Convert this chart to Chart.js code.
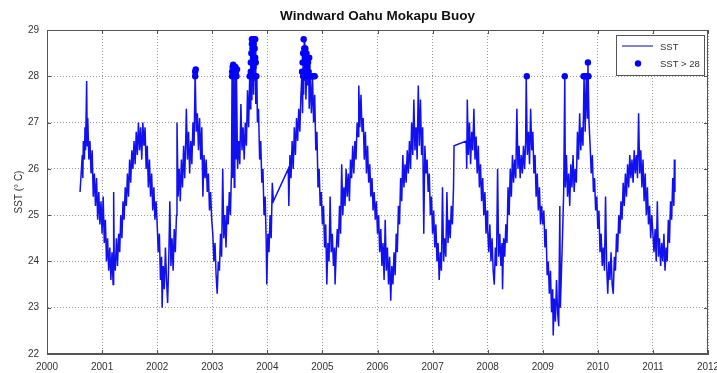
<!DOCTYPE html>
<html>
<head>
<meta charset="utf-8">
<script src="https://cdn.jsdelivr.net/npm/chart.js@4.4.1/dist/chart.umd.min.js"></script>
<style>
  html, body { margin: 0; padding: 0; background: #fff; }
  #wrap { width: 717px; height: 373px; }
</style>
</head>
<body>
<div id="wrap"><canvas id="sstChart" width="717" height="373"></canvas></div>
<script>
// tick values
const xTicks = [2000, 2001, 2002, 2003, 2004, 2005, 2006, 2007, 2008, 2009, 2010, 2011, 2012];
const yTicks = [22, 23, 24, 25, 26, 27, 28, 29];

// SST readings [decimal year, deg C], one year at a time
const sst2000 = [[2000.60,25.5],[2000.62,25.9],[2000.64,26.3],[2000.65,25.8],[2000.66,26.6],[2000.68,26.2],[2000.69,26.9],[2000.70,26.4],[2000.72,27.9],[2000.73,26.5],[2000.74,27.1],[2000.76,26.2],[2000.78,26.6],[2000.80,25.9],[2000.82,26.4],[2000.84,25.4],[2000.86,25.9],[2000.88,25.2],[2000.90,25.8],[2000.92,24.9],[2000.94,25.5],[2000.96,24.8],[2000.98,25.3]];
const sst2001 = [[2001.00,24.6],[2001.02,25.4],[2001.04,24.4],[2001.06,24.9],[2001.08,24.0],[2001.10,24.5],[2001.12,23.8],[2001.14,24.3],[2001.16,23.6],[2001.18,24.2],[2001.20,23.5],[2001.21,25.5],[2001.22,24.1],[2001.24,23.8],[2001.26,24.5],[2001.28,23.9],[2001.30,24.6],[2001.32,24.2],[2001.34,25.0],[2001.36,24.5],[2001.38,25.3],[2001.40,24.9],[2001.42,25.6],[2001.44,25.2],[2001.46,25.9],[2001.48,25.4],[2001.50,26.2],[2001.52,25.7],[2001.54,26.4],[2001.56,26.0],[2001.58,26.6],[2001.60,26.1],[2001.62,26.8],[2001.64,26.3],[2001.66,27.0],[2001.68,26.4],[2001.70,26.9],[2001.72,26.2],[2001.74,27.0],[2001.76,26.5],[2001.78,26.9],[2001.80,26.0],[2001.82,26.5],[2001.84,25.6],[2001.86,26.2],[2001.88,25.4],[2001.90,25.9],[2001.92,25.1],[2001.94,25.6],[2001.96,24.9],[2001.98,25.3]];
const sst2002 = [[2002.00,24.8],[2002.02,24.2],[2002.04,24.6],[2002.06,23.6],[2002.08,24.1],[2002.09,23.0],[2002.11,23.9],[2002.13,23.4],[2002.15,24.3],[2002.17,23.6],[2002.19,23.1],[2002.21,24.0],[2002.23,25.3],[2002.25,23.9],[2002.27,24.5],[2002.29,23.8],[2002.31,24.7],[2002.33,24.2],[2002.35,25.0],[2002.36,27.0],[2002.38,25.4],[2002.40,26.0],[2002.42,25.3],[2002.44,26.2],[2002.46,25.6],[2002.48,26.5],[2002.50,25.8],[2002.52,26.7],[2002.53,27.3],[2002.55,26.2],[2002.57,26.8],[2002.59,25.9],[2002.61,26.6],[2002.63,26.1],[2002.65,27.0],[2002.67,26.5],[2002.69,28.1],[2002.71,26.8],[2002.73,27.2],[2002.75,26.4],[2002.77,27.1],[2002.79,26.2],[2002.81,26.9],[2002.83,25.4],[2002.85,26.3],[2002.87,25.8],[2002.89,26.2],[2002.91,25.5],[2002.93,25.9],[2002.95,25.1],[2002.97,25.5],[2002.99,24.9]];
const sst2003 = [[2003.01,24.6],[2003.03,24.0],[2003.05,24.4],[2003.07,23.7],[2003.09,23.3],[2003.11,24.0],[2003.13,23.8],[2003.15,24.6],[2003.17,24.1],[2003.19,26.0],[2003.21,24.5],[2003.23,25.0],[2003.25,24.3],[2003.27,25.2],[2003.29,24.8],[2003.31,25.5],[2003.33,25.0],[2003.35,26.0],[2003.36,28.2],[2003.37,25.8],[2003.38,28.1],[2003.40,25.6],[2003.41,28.2],[2003.43,26.2],[2003.44,28.0],[2003.46,26.0],[2003.48,26.6],[2003.50,26.1],[2003.52,27.4],[2003.54,26.4],[2003.56,26.9],[2003.58,26.2],[2003.60,27.0],[2003.62,26.5],[2003.64,27.7],[2003.66,26.9],[2003.68,28.0],[2003.69,27.3],[2003.70,28.4],[2003.71,27.5],[2003.72,28.8],[2003.73,27.8],[2003.74,28.6],[2003.75,27.6],[2003.76,28.3],[2003.77,27.9],[2003.78,28.8],[2003.79,27.4],[2003.81,28.0],[2003.82,27.0],[2003.84,27.3],[2003.86,26.2],[2003.88,26.6],[2003.90,25.7],[2003.92,26.0],[2003.94,25.0],[2003.96,25.4],[2003.98,24.4]];
const sst2004 = [[2003.99,23.5],[2004.01,24.6],[2004.03,24.2],[2004.05,25.0],[2004.07,24.5],[2004.09,25.7],[2004.11,25.3],[2004.38,26.0],[2004.39,25.2],[2004.41,26.3],[2004.43,25.8],[2004.45,26.6],[2004.47,26.0],[2004.49,26.9],[2004.51,26.3],[2004.53,27.1],[2004.55,26.6],[2004.57,27.3],[2004.59,26.8],[2004.61,27.6],[2004.63,28.1],[2004.64,27.2],[2004.65,28.5],[2004.66,27.6],[2004.67,28.8],[2004.68,27.9],[2004.69,28.6],[2004.70,27.5],[2004.72,28.4],[2004.73,27.8],[2004.75,28.4],[2004.76,27.3],[2004.78,28.0],[2004.80,27.2],[2004.82,28.0],[2004.84,27.0],[2004.86,27.6],[2004.88,26.4],[2004.90,26.8],[2004.92,25.6],[2004.94,26.0],[2004.96,25.2],[2004.98,25.5]];
const sst2005 = [[2005.00,24.8],[2005.02,25.2],[2005.04,24.3],[2005.06,24.8],[2005.08,23.5],[2005.10,24.4],[2005.12,24.0],[2005.14,25.4],[2005.16,24.2],[2005.18,24.6],[2005.20,23.9],[2005.22,24.3],[2005.23,23.5],[2005.25,24.2],[2005.27,24.7],[2005.29,24.3],[2005.31,25.2],[2005.33,24.6],[2005.35,26.1],[2005.37,25.0],[2005.39,25.6],[2005.41,25.2],[2005.43,26.0],[2005.45,25.4],[2005.47,25.9],[2005.49,25.3],[2005.51,26.2],[2005.53,25.8],[2005.55,26.5],[2005.57,25.9],[2005.59,26.6],[2005.61,26.2],[2005.63,27.0],[2005.65,26.7],[2005.66,27.8],[2005.68,26.9],[2005.70,27.6],[2005.72,26.8],[2005.74,27.1],[2005.76,26.2],[2005.78,26.8],[2005.80,25.9],[2005.82,26.5],[2005.84,25.7],[2005.86,26.1],[2005.88,25.4],[2005.90,25.8],[2005.92,25.1],[2005.94,25.5],[2005.96,24.9],[2005.98,25.3]];
const sst2006 = [[2006.00,24.6],[2006.02,25.0],[2006.04,24.2],[2006.06,24.7],[2006.08,23.9],[2006.10,24.4],[2006.12,23.6],[2006.14,24.9],[2006.16,23.8],[2006.18,24.3],[2006.20,23.5],[2006.22,24.1],[2006.24,23.15],[2006.26,23.9],[2006.28,23.5],[2006.30,24.2],[2006.32,23.7],[2006.34,24.6],[2006.36,24.2],[2006.38,25.2],[2006.40,24.8],[2006.42,25.8],[2006.44,25.3],[2006.46,26.3],[2006.48,25.6],[2006.50,26.1],[2006.52,25.7],[2006.54,26.4],[2006.56,25.9],[2006.58,26.6],[2006.60,26.0],[2006.62,27.0],[2006.64,26.3],[2006.66,27.5],[2006.68,26.4],[2006.70,26.9],[2006.72,26.2],[2006.74,27.8],[2006.76,26.5],[2006.78,27.5],[2006.80,26.3],[2006.82,26.9],[2006.84,24.6],[2006.86,26.5],[2006.88,25.9],[2006.90,26.2],[2006.92,25.5],[2006.94,25.9],[2006.96,25.0],[2006.98,25.4]];
const sst2007 = [[2007.00,24.6],[2007.02,25.1],[2007.04,24.3],[2007.06,24.8],[2007.08,24.0],[2007.10,24.4],[2007.12,23.6],[2007.14,24.2],[2007.16,23.8],[2007.18,25.6],[2007.20,24.0],[2007.22,24.5],[2007.24,24.1],[2007.26,25.5],[2007.28,24.4],[2007.30,24.9],[2007.32,24.5],[2007.34,25.2],[2007.36,24.8],[2007.38,25.6],[2007.39,26.5],[2007.61,26.6],[2007.62,26.0],[2007.63,27.5],[2007.65,26.3],[2007.67,27.0],[2007.69,26.1],[2007.71,26.8],[2007.73,26.4],[2007.75,27.3],[2007.77,26.2],[2007.79,26.7],[2007.81,25.9],[2007.83,26.5],[2007.85,25.6],[2007.87,26.1],[2007.89,25.3],[2007.91,25.8],[2007.93,25.0],[2007.95,25.5],[2007.97,24.6],[2007.99,25.1]];
const sst2008 = [[2008.00,24.7],[2008.02,24.2],[2008.04,24.8],[2008.06,24.0],[2008.08,24.5],[2008.10,23.8],[2008.12,23.5],[2008.14,24.3],[2008.16,23.9],[2008.18,26.0],[2008.20,24.1],[2008.22,24.6],[2008.24,23.9],[2008.26,24.4],[2008.27,23.4],[2008.29,24.5],[2008.31,24.1],[2008.33,24.8],[2008.35,24.4],[2008.37,25.6],[2008.39,25.0],[2008.41,26.0],[2008.43,25.4],[2008.45,26.3],[2008.47,25.7],[2008.49,26.2],[2008.51,25.8],[2008.53,27.3],[2008.55,26.0],[2008.57,26.5],[2008.59,25.8],[2008.61,26.3],[2008.63,25.9],[2008.65,26.5],[2008.67,26.0],[2008.69,26.6],[2008.70,28.0],[2008.72,26.3],[2008.74,26.8],[2008.76,26.1],[2008.78,27.3],[2008.80,26.4],[2008.82,26.8],[2008.84,25.9],[2008.86,26.3],[2008.88,25.4],[2008.90,25.9],[2008.92,25.1],[2008.94,25.6],[2008.96,24.8],[2008.98,25.2]];
const sst2009 = [[2009.00,24.8],[2009.02,25.1],[2009.04,24.3],[2009.06,24.7],[2009.08,23.7],[2009.10,24.0],[2009.12,23.3],[2009.14,23.8],[2009.16,22.9],[2009.18,23.4],[2009.19,22.4],[2009.21,23.2],[2009.23,22.7],[2009.25,23.6],[2009.27,22.9],[2009.29,22.6],[2009.31,25.2],[2009.32,23.0],[2009.34,23.8],[2009.36,24.6],[2009.38,25.5],[2009.40,28.0],[2009.41,25.6],[2009.43,26.3],[2009.45,25.4],[2009.47,25.9],[2009.49,25.2],[2009.51,26.1],[2009.53,25.6],[2009.55,26.3],[2009.57,25.5],[2009.59,26.0],[2009.61,25.7],[2009.63,26.8],[2009.65,26.2],[2009.67,27.2],[2009.69,26.4],[2009.71,26.9],[2009.73,26.5],[2009.75,28.0],[2009.77,26.8],[2009.79,28.0],[2009.81,27.1],[2009.82,28.3],[2009.84,27.0],[2009.86,26.5],[2009.88,25.9],[2009.90,26.3],[2009.92,25.5],[2009.94,25.8],[2009.96,25.1],[2009.98,25.4]];
const sst2010 = [[2010.00,24.7],[2010.02,25.1],[2010.04,24.2],[2010.06,24.6],[2010.08,23.9],[2010.10,24.3],[2010.12,23.8],[2010.14,25.4],[2010.16,23.9],[2010.18,23.3],[2010.20,24.0],[2010.22,23.6],[2010.24,24.2],[2010.26,23.5],[2010.28,23.3],[2010.30,24.1],[2010.32,23.8],[2010.34,24.6],[2010.36,24.2],[2010.38,25.0],[2010.40,24.6],[2010.42,25.3],[2010.44,24.9],[2010.46,25.7],[2010.48,25.2],[2010.50,25.9],[2010.52,25.4],[2010.54,26.1],[2010.56,25.6],[2010.58,26.3],[2010.60,25.8],[2010.62,26.2],[2010.64,25.7],[2010.66,26.4],[2010.68,25.9],[2010.70,26.3],[2010.72,25.8],[2010.74,27.2],[2010.76,25.9],[2010.78,26.4],[2010.80,25.6],[2010.82,26.2],[2010.84,25.3],[2010.86,25.9],[2010.88,25.0],[2010.90,25.6],[2010.92,24.8],[2010.94,25.2],[2010.96,24.5],[2010.98,25.0]];
const sst2011 = [[2011.00,24.6],[2011.02,24.2],[2011.04,24.7],[2011.06,24.0],[2011.08,25.3],[2011.10,24.1],[2011.12,24.5],[2011.14,23.9],[2011.16,24.4],[2011.18,24.0],[2011.20,24.6],[2011.22,23.8],[2011.24,24.3],[2011.26,24.0],[2011.28,24.9],[2011.30,24.4],[2011.32,25.3],[2011.34,24.9],[2011.36,25.8],[2011.38,25.2],[2011.39,26.2],[2011.40,25.5]];

// readings above 28 deg C, marked with dots
const hotTimes = [2002.69,2002.69,2002.70,
  2003.36,2003.36,2003.37,2003.38,2003.39,2003.40,2003.42,2003.43,2003.44,2003.45,
  2003.68,2003.70,2003.70,2003.71,2003.71,2003.72,2003.72,2003.73,2003.74,2003.75,2003.75,2003.76,2003.77,2003.78,2003.78,2003.79,2003.80,
  2004.63,2004.64,2004.65,2004.65,2004.66,2004.67,2004.68,2004.69,2004.70,2004.70,2004.71,2004.72,2004.73,2004.74,2004.75,2004.76,2004.78,2004.80,2004.83,2004.86,
  2008.71,2009.40,2009.74,2009.76,2009.80,2009.82,2009.83];
const hotValues = [28.0,28.1,28.15,
  28.0,28.1,28.2,28.25,28.1,28.0,28.2,28.1,28.0,28.15,
  28.0,28.1,28.3,28.5,28.0,28.8,28.7,28.6,28.4,28.2,28.7,28.8,28.6,28.4,28.8,28.3,28.0,
  28.1,28.3,28.5,28.0,28.8,28.6,28.4,28.6,28.3,28.0,28.5,28.4,28.2,28.3,28.1,28.4,28.0,28.0,28.0,28.0,
  28.0,28.0,28.0,28.0,28.0,28.3,28.0];

const sstPoints = [].concat(sst2000, sst2001, sst2002, sst2003, sst2004, sst2005,
  sst2006, sst2007, sst2008, sst2009, sst2010, sst2011).map(p => ({ x: p[0], y: p[1] }));
const hotPoints = hotTimes.map((t, i) => ({ x: t, y: hotValues[i] }));

const FONT = "'Liberation Sans', Arial, sans-serif";
const AXIS_GREY = "#555";

// box round the axes plus inward tick marks, like the original
const framePlugin = {
  id: "frame",
  afterDraw(chart) {
    const { ctx, chartArea: a, scales } = chart;
    ctx.save();
    ctx.strokeStyle = AXIS_GREY;
    ctx.lineWidth = 1;
    ctx.strokeRect(a.left + 0.5, a.top + 0.5, a.right - a.left - 1, a.bottom - a.top - 1);
    ctx.beginPath();
    xTicks.forEach(v => {
      const px = Math.round(scales.x.getPixelForValue(v)) + 0.5;
      ctx.moveTo(px, a.bottom); ctx.lineTo(px, a.bottom - 4);
      ctx.moveTo(px, a.top); ctx.lineTo(px, a.top + 4);
    });
    yTicks.forEach(v => {
      const py = Math.round(scales.y.getPixelForValue(v)) + 0.5;
      ctx.moveTo(a.left, py); ctx.lineTo(a.left + 4, py);
      ctx.moveTo(a.right, py); ctx.lineTo(a.right - 4, py);
    });
    ctx.stroke();
    ctx.restore();
  }
};

// legend box in the top right corner of the axes
const legendPlugin = {
  id: "boxLegend",
  afterDraw(chart) {
    const { ctx, chartArea: a } = chart;
    const x0 = a.right - 92, y0 = a.top + 5, w = 88, h = 40;
    ctx.save();
    ctx.fillStyle = "#fff";
    ctx.fillRect(x0, y0, w, h);
    ctx.strokeStyle = "#555";
    ctx.lineWidth = 1;
    ctx.strokeRect(x0 + 0.5, y0 + 0.5, w, h);
    ctx.strokeStyle = "rgb(90,90,200)";
    ctx.lineWidth = 1.5;
    ctx.beginPath();
    ctx.moveTo(x0 + 6, y0 + 11);
    ctx.lineTo(x0 + 37, y0 + 11);
    ctx.stroke();
    ctx.fillStyle = "#0000ff";
    ctx.beginPath();
    ctx.arc(x0 + 22, y0 + 28.5, 3.2, 0, Math.PI * 2);
    ctx.fill();
    ctx.fillStyle = "#333";
    ctx.font = "9.5px " + FONT;
    ctx.textBaseline = "middle";
    ctx.fillText("SST", x0 + 44, y0 + 12);
    ctx.fillText("SST > 28", x0 + 44, y0 + 29);
    ctx.restore();
  }
};

const whiteBg = {
  id: "whiteBg",
  beforeDraw(chart) {
    const ctx = chart.ctx;
    ctx.save();
    ctx.fillStyle = "#fff";
    ctx.fillRect(0, 0, chart.width, chart.height);
    ctx.restore();
  }
};

const ctx = document.getElementById("sstChart").getContext("2d");
new Chart(ctx, {
  type: "line",
  data: {
    datasets: [
      {
        label: "SST",
        data: sstPoints,
        borderColor: "#1010f0",
        borderWidth: 1.5,
        pointRadius: 0,
        tension: 0,
        fill: false,
        order: 2
      },
      {
        label: "SST > 28",
        data: hotPoints,
        showLine: false,
        pointRadius: 3.2,
        pointStyle: "circle",
        pointBackgroundColor: "#0000ff",
        pointBorderWidth: 0,
        order: 1
      }
    ]
  },
  options: {
    responsive: false,
    animation: false,
    devicePixelRatio: 1,
    layout: { padding: { left: 0, right: 9, top: 0, bottom: 0 } },
    plugins: {
      legend: { display: false },
      tooltip: { enabled: false },
      title: {
        display: true,
        text: "Windward Oahu Mokapu Buoy",
        fullSize: false,
        color: "#111",
        font: { family: FONT, size: 13.5, weight: "bold" },
        padding: { top: 8, bottom: 5.8 }
      }
    },
    scales: {
      x: {
        type: "linear",
        min: 2000,
        max: 2012,
        afterFit(s) { s.height = 19; s.paddingLeft = 0; s.paddingRight = 0; },
        afterBuildTicks(s) { s.ticks = xTicks.map(v => ({ value: v })); },
        ticks: {
          color: "#333",
          font: { family: FONT, size: 10 },
          padding: 7,
          maxRotation: 0,
          callback: v => String(v)
        },
        grid: {
          color: "#999",
          drawTicks: false
        },
        border: { display: true, color: AXIS_GREY, dash: [1, 2] }
      },
      y: {
        type: "linear",
        min: 22,
        max: 29,
        afterFit(s) { s.width = 47; s.paddingTop = 0; s.paddingBottom = 0; },
        afterBuildTicks(s) { s.ticks = yTicks.map(v => ({ value: v })); },
        ticks: {
          color: "#333",
          font: { family: FONT, size: 10 },
          padding: 8,
          callback: v => String(v)
        },
        grid: {
          color: "#999",
          drawTicks: false
        },
        border: { display: true, color: AXIS_GREY, dash: [1, 2] },
        title: {
          display: true,
          text: "SST (° C)",
          color: "#333",
          font: { family: FONT, size: 10 },
          padding: { top: 13, bottom: 0 }
        }
      }
    }
  },
  plugins: [whiteBg, framePlugin, legendPlugin]
});
</script>
</body>
</html>
